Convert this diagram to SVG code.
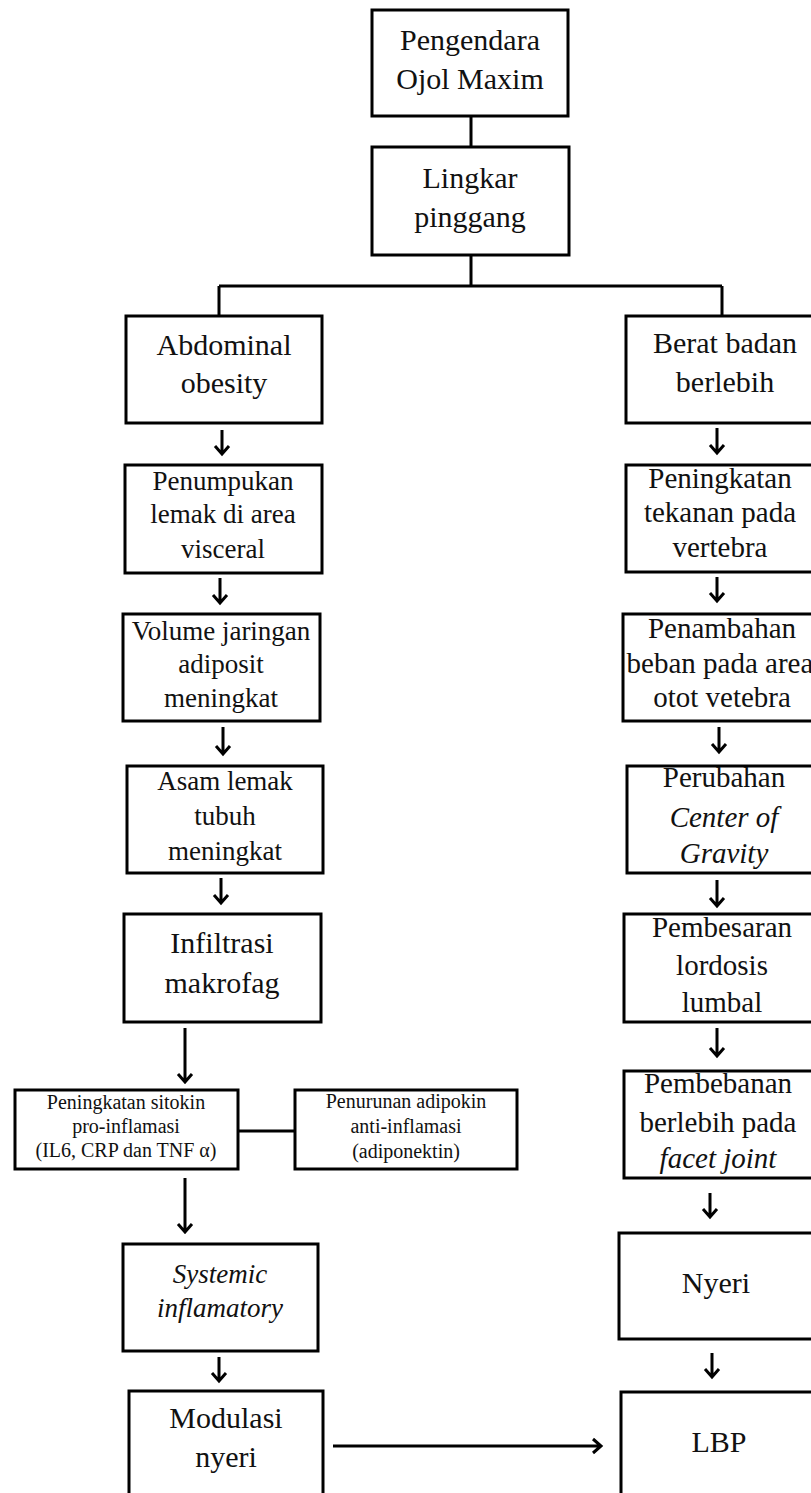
<svg xmlns="http://www.w3.org/2000/svg" width="811" height="1493" viewBox="0 0 811 1493">
<style>
.box{fill:#fff;stroke:#000;stroke-width:3}
.ln{fill:none;stroke:#000;stroke-width:3}
.ar{fill:none;stroke:#000;stroke-width:3;stroke-linejoin:miter}
text{font-family:"Liberation Serif","Times New Roman",serif;fill:#111;text-anchor:middle}
.f30{font-size:30px}
.f29{font-size:29px}
.f27{font-size:27px}
.f20{font-size:20px}
.it{font-style:italic}
</style>
<rect width="811" height="1493" fill="#fff"/>
<g id="connectors">
<path class="ln" d="M471 117V146M471 256V286M219 286H722M219 286V316M722 286V315M239 1131H294"/>
<path class="ar" d="M222 430V454M215 446L222 454L229 446"/>
<path class="ar" d="M220 578V603M213 595L220 603L227 595"/>
<path class="ar" d="M223 727V754M216 746L223 754L230 746"/>
<path class="ar" d="M221 878V903M214 895L221 903L228 895"/>
<path class="ar" d="M185 1028V1082M178 1074L185 1082L192 1074"/>
<path class="ar" d="M185 1178V1232M178 1224L185 1232L192 1224"/>
<path class="ar" d="M219 1357V1381M212 1373L219 1381L226 1373"/>
<path class="ar" d="M333 1446H601M593 1439L601 1446L593 1453"/>
<path class="ar" d="M717 428V453M710 445L717 453L724 445"/>
<path class="ar" d="M717 577V601M710 593L717 601L724 593"/>
<path class="ar" d="M719 727V752M712 744L719 752L726 744"/>
<path class="ar" d="M717 880V906M710 898L717 906L724 898"/>
<path class="ar" d="M717 1028V1056M710 1048L717 1056L724 1048"/>
<path class="ar" d="M710 1193V1217M703 1209L710 1217L717 1209"/>
<path class="ar" d="M712 1353V1377M705 1369L712 1377L719 1369"/>
</g>
<g id="n1"><rect class="box" x="372" y="10" width="196" height="106"/><text class="f30" x="470" y="50">Pengendara</text><text class="f30" x="470" y="89">Ojol Maxim</text></g>
<g id="n2"><rect class="box" x="372" y="147" width="197" height="108"/><text class="f30" x="470" y="188">Lingkar</text><text class="f30" x="470" y="227">pinggang</text></g>
<g id="n3"><rect class="box" x="126" y="316" width="196" height="107"/><text class="f30" x="224" y="355">Abdominal</text><text class="f30" x="224" y="393">obesity</text></g>
<g id="n4"><rect class="box" x="125" y="465" width="197" height="108"/><text class="f27" x="223" y="490">Penumpukan</text><text class="f27" x="223" y="523">lemak di area</text><text class="f27" x="223" y="558">visceral</text></g>
<g id="n5"><rect class="box" x="123" y="614" width="197" height="107"/><text class="f27" x="221" y="640">Volume jaringan</text><text class="f27" x="221" y="673">adiposit</text><text class="f27" x="221" y="707">meningkat</text></g>
<g id="n6"><rect class="box" x="127" y="766" width="196" height="107"/><text class="f27" x="225" y="790">Asam lemak</text><text class="f27" x="225" y="825">tubuh</text><text class="f27" x="225" y="860">meningkat</text></g>
<g id="n7"><rect class="box" x="124" y="914" width="197" height="108"/><text class="f30" x="222" y="953">Infiltrasi</text><text class="f30" x="222" y="993">makrofag</text></g>
<g id="n8"><rect class="box" x="15" y="1090" width="223" height="79"/><text class="f20" x="126" y="1109">Peningkatan sitokin</text><text class="f20" x="126" y="1133">pro-inflamasi</text><text class="f20" x="126" y="1157">(IL6, CRP dan TNF α)</text></g>
<g id="n9"><rect class="box" x="295" y="1090" width="222" height="79"/><text class="f20" x="406" y="1108">Penurunan adipokin</text><text class="f20" x="406" y="1133">anti-inflamasi</text><text class="f20" x="406" y="1158">(adiponektin)</text></g>
<g id="n10"><rect class="box" x="123" y="1244" width="195" height="107"/><text class="f27 it" x="220" y="1283">Systemic</text><text class="f27 it" x="220" y="1317">inflamatory</text></g>
<g id="n11"><rect class="box" x="129" y="1391" width="194" height="120"/><text class="f30" x="226" y="1428">Modulasi</text><text class="f30" x="226" y="1467">nyeri</text></g>
<g id="n12"><rect class="box" x="626" y="316" width="200" height="107"/><text class="f30" x="725" y="353">Berat badan</text><text class="f30" x="725" y="392">berlebih</text></g>
<g id="n13"><rect class="box" x="626" y="465" width="200" height="107"/><text class="f29" x="720" y="488">Peningkatan</text><text class="f29" x="720" y="522">tekanan pada</text><text class="f29" x="720" y="557">vertebra</text></g>
<g id="n14"><rect class="box" x="623" y="614" width="200" height="107"/><text class="f29" x="722" y="638">Penambahan</text><text class="f29" x="720" y="673">beban pada area</text><text class="f29" x="722" y="707">otot vetebra</text></g>
<g id="n15"><rect class="box" x="627" y="766" width="200" height="107"/><text class="f29" x="724" y="787">Perubahan</text><text class="f29 it" x="724" y="827">Center of</text><text class="f29 it" x="724" y="863">Gravity</text></g>
<g id="n16"><rect class="box" x="624" y="914" width="200" height="108"/><text class="f29" x="722" y="937">Pembesaran</text><text class="f29" x="722" y="975">lordosis</text><text class="f29" x="722" y="1012">lumbal</text></g>
<g id="n17"><rect class="box" x="624" y="1071" width="200" height="107"/><text class="f29" x="718" y="1093">Pembebanan</text><text class="f29" x="718" y="1132">berlebih pada</text><text class="f29 it" x="718" y="1168">facet joint</text></g>
<g id="n18"><rect class="box" x="619" y="1233" width="200" height="106"/><text class="f30" x="716" y="1293">Nyeri</text></g>
<g id="n19"><rect class="box" x="621" y="1392" width="200" height="120"/><text class="f30" x="719" y="1452">LBP</text></g>
</svg>
